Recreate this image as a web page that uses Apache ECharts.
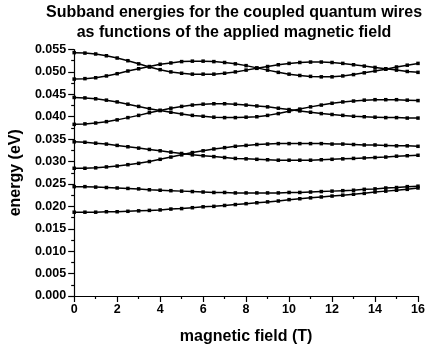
<!DOCTYPE html>
<html>
<head>
<meta charset="utf-8">
<script src="https://cdn.jsdelivr.net/npm/echarts@6/dist/echarts.min.js"></script>
<style>
  html, body { margin: 0; padding: 0; background: #fff; }
  #chart { width: 434px; height: 350px; }
</style>
</head>
<body>
<div id="chart"></div>
<script>
// Magnetic field values (T), sampled every 0.5 T
const field = [0, 0.5, 1, 1.5, 2, 2.5, 3, 3.5, 4, 4.5, 5, 5.5, 6, 6.5, 7, 7.5, 8,
  8.5, 9, 9.5, 10, 10.5, 11, 11.5, 12, 12.5, 13, 13.5, 14, 14.5, 15, 15.5, 16];

// Subband energies (eV), one array per subband
const band1 = [0.0187, 0.0187, 0.0187, 0.0188, 0.0188, 0.0189, 0.0190, 0.0191, 0.0192, 0.0194, 0.0195,
  0.0197, 0.0199, 0.0200, 0.0202, 0.0204, 0.0206, 0.0208, 0.0210, 0.0212, 0.0215, 0.0217,
  0.0219, 0.0221, 0.0223, 0.0225, 0.0227, 0.0229, 0.0232, 0.0234, 0.0236, 0.0238, 0.0241];
const band2 = [0.0244, 0.0244, 0.0243, 0.0242, 0.0241, 0.0240, 0.0239, 0.0237, 0.0236, 0.0235, 0.0234,
  0.0233, 0.0232, 0.0231, 0.0231, 0.0230, 0.0230, 0.0230, 0.0230, 0.0230, 0.0231, 0.0231,
  0.0232, 0.0233, 0.0234, 0.0235, 0.0236, 0.0238, 0.0239, 0.0241, 0.0242, 0.0244, 0.0245];
const band3 = [0.0285, 0.0285, 0.0286, 0.0288, 0.0290, 0.0293, 0.0296, 0.0300, 0.0305, 0.0310, 0.0315,
  0.0320, 0.0324, 0.0328, 0.0331, 0.0334, 0.0336, 0.0338, 0.0339, 0.0340, 0.0340, 0.0340,
  0.0340, 0.0340, 0.0339, 0.0339, 0.0338, 0.0337, 0.0337, 0.0336, 0.0335, 0.0335, 0.0334];
const band4 = [0.0344, 0.0343, 0.0341, 0.0339, 0.0336, 0.0333, 0.0330, 0.0327, 0.0324, 0.0321, 0.0318,
  0.0315, 0.0313, 0.0311, 0.0309, 0.0307, 0.0306, 0.0305, 0.0304, 0.0303, 0.0303, 0.0303,
  0.0303, 0.0304, 0.0305, 0.0306, 0.0307, 0.0308, 0.0309, 0.0310, 0.0312, 0.0313, 0.0314];
const band5 = [0.0383, 0.0384, 0.0386, 0.0389, 0.0393, 0.0398, 0.0403, 0.0409, 0.0414, 0.0419, 0.0423,
  0.0426, 0.0428, 0.0429, 0.0429, 0.0428, 0.0426, 0.0424, 0.0422, 0.0419, 0.0416, 0.0413,
  0.0410, 0.0407, 0.0405, 0.0403, 0.0401, 0.0400, 0.0399, 0.0398, 0.0398, 0.0397, 0.0397];
const band6 = [0.0443, 0.0442, 0.0440, 0.0437, 0.0433, 0.0428, 0.0423, 0.0418, 0.0414, 0.0410, 0.0406,
  0.0403, 0.0401, 0.0399, 0.0398, 0.0398, 0.0399, 0.0400, 0.0403, 0.0407, 0.0412, 0.0417,
  0.0422, 0.0426, 0.0430, 0.0433, 0.0435, 0.0437, 0.0438, 0.0438, 0.0438, 0.0437, 0.0436];
const band7 = [0.0484, 0.0485, 0.0487, 0.0491, 0.0496, 0.0502, 0.0507, 0.0512, 0.0517, 0.0520, 0.0523,
  0.0524, 0.0524, 0.0523, 0.0521, 0.0518, 0.0514, 0.0509, 0.0504, 0.0499, 0.0495, 0.0492,
  0.0490, 0.0489, 0.0489, 0.0491, 0.0494, 0.0498, 0.0502, 0.0506, 0.0511, 0.0515, 0.0519];
const band8 = [0.0543, 0.0542, 0.0540, 0.0536, 0.0531, 0.0525, 0.0518, 0.0511, 0.0505, 0.0500, 0.0497,
  0.0495, 0.0495, 0.0495, 0.0497, 0.0500, 0.0504, 0.0508, 0.0512, 0.0516, 0.0519, 0.0521,
  0.0522, 0.0522, 0.0521, 0.0519, 0.0516, 0.0513, 0.0510, 0.0507, 0.0504, 0.0501, 0.0499];

const bands = [band1, band2, band3, band4, band5, band6, band7, band8];

const FONT = '"Liberation Sans", Arial, sans-serif';
const chart = echarts.init(document.getElementById('chart'), null, { renderer: 'canvas' });

const axisLine = { show: true, lineStyle: { color: '#000', width: 1.2 } };
const tickStyle = { color: '#000', width: 1.2 };

chart.setOption({
  animation: false,
  backgroundColor: '#fff',
  graphic: [
    {
      type: 'text', left: 46, top: 3,
      style: {
        text: 'Subband energies for the coupled quantum wires\nas functions of the applied magnetic field',
        textAlign: 'center',
        font: 'bold 16px ' + FONT,
        lineHeight: 20,
        fill: '#000'
      }
    }
  ],
  grid: { left: 70, right: 16, top: 49.5, bottom: 52, containLabel: false },
  xAxis: {
    type: 'value', min: 0, max: 16, interval: 2,
    axisLine: axisLine,
    axisTick: { show: true, inside: false, length: 6, lineStyle: tickStyle },
    minorTick: { show: true, splitNumber: 2, length: 3, lineStyle: tickStyle },
    splitLine: { show: false },
    axisLabel: { color: '#000', fontFamily: FONT, fontWeight: 'bold', fontSize: 12.5, margin: 7 },
    name: 'magnetic field (T)', nameLocation: 'middle', nameGap: 33,
    nameTextStyle: { color: '#000', fontFamily: FONT, fontWeight: 'bold', fontSize: 16 }
  },
  yAxis: {
    type: 'value', min: 0, max: 0.055, interval: 0.005,
    axisLine: axisLine,
    axisTick: { show: true, inside: false, length: 6, lineStyle: tickStyle },
    minorTick: { show: true, splitNumber: 2, length: 3, lineStyle: tickStyle },
    splitLine: { show: false },
    axisLabel: {
      color: '#000', fontFamily: FONT, fontWeight: 'bold', fontSize: 12.5, margin: 8,
      formatter: v => v.toFixed(3)
    },
    name: 'energy (eV)', nameLocation: 'middle', nameGap: 50, nameRotate: 90,
    nameTextStyle: { color: '#000', fontFamily: FONT, fontWeight: 'bold', fontSize: 16 }
  },
  series: bands.map((b, i) => ({
    name: 'band ' + (i + 1),
    type: 'line',
    data: field.map((f, k) => [f, b[k]]),
    symbol: 'rect',
    symbolSize: 3.5,
    showAllSymbol: true,
    lineStyle: { color: '#000', width: 1.5 },
    itemStyle: { color: '#000' }
  }))
});
</script>
</body>
</html>
